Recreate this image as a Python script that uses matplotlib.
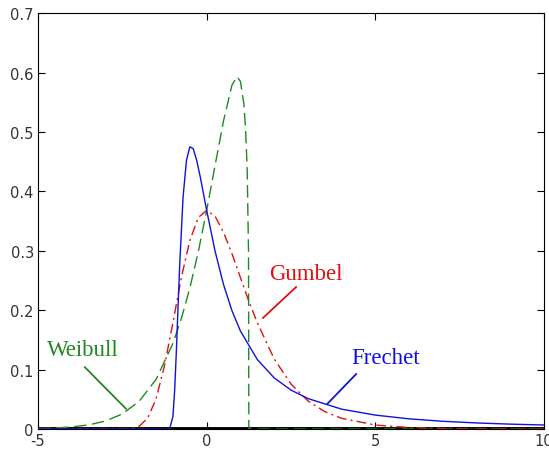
import numpy as np
import matplotlib
matplotlib.use("Agg")
import matplotlib.pyplot as plt

plt.rcParams["axes.unicode_minus"] = False

# values
weibull_x = [-5, -4.5, -4, -3.5, -3, -2.5, -2, -1.5, -1, -0.75, -0.5, -0.25, 0, 0.25,
             0.5, 0.75, 0.9, 1.0, 1.1, 1.15, 1.2, 1.24, 1.25, 10]
weibull_y = [0.0008, 0.0018, 0.0035, 0.0069, 0.0134, 0.0254, 0.0467, 0.0836, 0.144, 0.186,
             0.237, 0.298, 0.368, 0.444, 0.519, 0.579, 0.593, 0.585, 0.548, 0.508, 0.439,
             0.299, 0.0, 0.0]

gumbel_x = [-5, -3, -2.5, -2.25, -2, -1.75, -1.5, -1.25, -1, -0.75, -0.5, -0.25, 0, 0.25,
            0.5, 0.75, 1, 1.25, 1.5, 2, 2.5, 3, 3.5, 4, 5, 6, 7, 8, 10]
gumbel_y = [0.0, 0.0, 0.0001, 0.0007, 0.0046, 0.0182, 0.0507, 0.1065, 0.179, 0.255, 0.317,
            0.356, 0.368, 0.358, 0.331, 0.295, 0.255, 0.215, 0.179, 0.118, 0.0756, 0.0474,
            0.0293, 0.018, 0.0067, 0.0025, 0.0009, 0.0003, 0.0]

frechet_x = [-5, -1.25, -1.2, -1.1, -1.0, -0.95, -0.9, -0.85, -0.8, -0.7, -0.6, -0.5, -0.4,
             -0.3, -0.2, 0, 0.25, 0.5, 0.75, 1, 1.5, 2, 2.5, 3, 4, 5, 6, 7, 8, 9, 10]
frechet_y = [0.0, 0.0, 0.0, 0.0001, 0.0212, 0.0644, 0.129, 0.204, 0.276, 0.390, 0.452, 0.475,
             0.472, 0.453, 0.427, 0.368, 0.299, 0.243, 0.199, 0.165, 0.117, 0.0861, 0.0655,
             0.0513, 0.0334, 0.0234, 0.0171, 0.0130, 0.0102, 0.0082, 0.0067]

labels = ["Weibull", "Gumbel", "Frechet"]
colors = ["#1f8a1f", "#e01010", "#1010e0"]

fig = plt.figure(figsize=(5.49, 4.56), dpi=100)
ax = fig.add_axes([0.0692, 0.057, 0.9218, 0.912])

ax.plot([-5, 10], [0, 0], color="black", lw=2.8, zorder=1)
ax.plot(weibull_x, weibull_y, color=colors[0], lw=1, dashes=(9, 4), zorder=2)
ax.plot(gumbel_x, gumbel_y, color=colors[1], lw=1, dashes=(7, 3, 1.5, 3), zorder=3)
ax.plot(frechet_x, frechet_y, color=colors[2], lw=1, zorder=4)

# labels with pointer lines
text_pos = [(-3.68, 0.133), (2.95, 0.261), (5.29, 0.121)]
line_pos = [((-3.61, 0.104), (-2.39, 0.034)),
            ((2.65, 0.239), (1.67, 0.187)),
            ((4.43, 0.0925), (3.57, 0.042))]
for lab, c, (tx, ty), (p0, p1) in zip(labels, colors, text_pos, line_pos):
    ax.text(tx, ty, lab, color=c, fontsize=16.5, family="Liberation Serif",
            ha="center", va="center")
    ax.plot([p0[0], p1[0]], [p0[1], p1[1]], color=c, lw=1.3)

ax.set_xlim(-5, 10)
ax.set_ylim(0, 0.7)
ax.set_xticks([-5, 0, 5, 10])
ax.set_yticks(np.arange(0, 0.71, 0.1))
ax.set_yticklabels(["0", "0.1", "0.2", "0.3", "0.4", "0.5", "0.6", "0.7"])
ax.tick_params(direction="in", top=True, right=True, length=5, width=0.8,
               labelsize=10.5, labelcolor="#333333", pad=3)
for s in ax.spines.values():
    s.set_linewidth(0.8)

fig.savefig("out.png", dpi=100)
